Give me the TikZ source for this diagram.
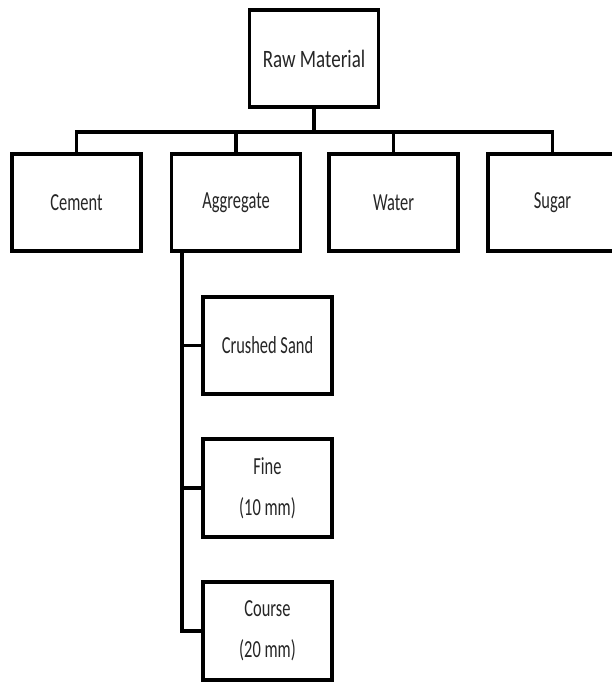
\documentclass[tikz,border=0pt]{standalone}
\usepackage{fontspec}
\setmainfont{Carlito}
\newfontfamily\rawf[FakeStretch=0.76]{Carlito}
\newfontfamily\lblf[FakeStretch=0.67]{Carlito}
\begin{document}
\begin{tikzpicture}[x=1pt,y=-1pt,
  box/.style={draw=black, line width=3.6pt, fill=white, minimum width=129pt, minimum height=97.5pt,
    inner sep=0pt, align=center, text=black!85, font=\lblf\fontsize{24.5}{41}\selectfont},
  conn/.style={draw=black, line width=3.6pt, line cap=rect}]
\useasboundingbox (0,0) rectangle (612,683);
\node[box, font=\rawf\fontsize{25}{41}\selectfont] (raw) at (314,58.5) {Raw Material};
\node[box] (cement) at (76.5,202.5) {Cement};
\node[box] (agg) at (236,202.5) {Aggregate};
\node[box] (water) at (393.5,202.5) {Water};
\node[box] (sugar) at (552.5,202.5) {Sugar};
\node[box] (crushed) at (267.5,345.5) {Crushed Sand};
\node[box] (fine) at (267.5,488) {Fine\\(10 mm)};
\node[box] (course) at (267.5,631) {Course\\(20 mm)};
\coordinate (bar) at (0,132);
\coordinate (tx) at (182,0);
\draw[conn] (raw.south) -- (raw.south |- bar);
\draw[conn] (cement.north) -- (cement.north |- bar) -- (sugar.north |- bar) -- (sugar.north);
\draw[conn] (agg.north) -- (agg.north |- bar);
\draw[conn] (water.north) -- (water.north |- bar);
\draw[conn] (agg.south -| tx) -- (tx |- course.west) -- (course.west);
\draw[conn] (tx |- crushed.west) -- (crushed.west);
\draw[conn] (tx |- fine.west) -- (fine.west);
\end{tikzpicture}
\end{document}
